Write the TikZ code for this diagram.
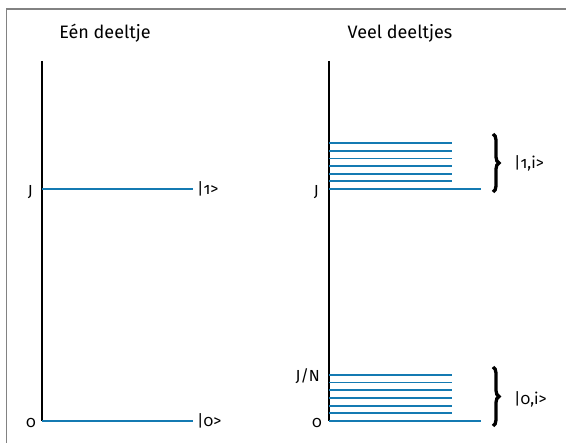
\documentclass[tikz,border=0pt]{standalone}
\usepackage{fontspec}
\setmainfont[Numbers=OldStyle]{Fira Sans}
\usetikzlibrary{decorations.pathreplacing}
\definecolor{levelblue}{RGB}{20,122,178}
\definecolor{framegray}{RGB}{130,130,130}

\begin{document}
\begin{tikzpicture}[x=1pt,y=-1pt,
  axis/.style={draw=black,line width=1.1pt},
  level/.style={draw=levelblue,line width=1.8pt},
  lbl/.style={inner sep=0pt,font=\fontsize{16}{19}\selectfont},
  title/.style={inner sep=0pt,font=\fontsize{18}{22}\selectfont},
  curly/.style={decorate,decoration={brace,amplitude=6pt},line width=3.3pt}]

\useasboundingbox (0,0) rectangle (566,443);

% frame
\draw[framegray,line width=1.3pt] (6.7,443) -- (6.7,9) -- (566,9);

% titles
\node[title] (t1) at (105,33) {Eén deeltje};
\node[title] (t2) at (400,33) {Veel deeltjes};

% een deeltje
\coordinate (a1top) at (42,61);
\coordinate (a1bot) at (42,421);
\draw[axis] (a1top) -- (a1bot);
\coordinate (e1) at (42,189);
\coordinate (e1end) at (193,189);
\coordinate (e0end) at (193,421);
\draw[level] (e1) -- (e1end);
\draw[level] (a1bot) -- (e0end);
\node[lbl,anchor=east] (J1) at (33,192) {J};
\node[lbl,anchor=east] (z1) at (36,423) {0};
\node[lbl,anchor=west] (k1) at (197,189) {|1>};
\node[lbl,anchor=west] (k0) at (197,421) {|0>};

% veel deeltjes
\coordinate (a2top) at (329,61);
\coordinate (a2bot) at (329,421);
\draw[axis] (a2top) -- (a2bot);
\coordinate (m1) at (329,189);
\coordinate (m1end) at (481,189);
\coordinate (m0end) at (481,421);
\draw[level] (m1) -- (m1end);
\draw[level] (a2bot) -- (m0end);
\foreach \k in {1,...,6} {
  \draw[level] (329,189-7.62*\k) -- (452,189-7.62*\k);
  \draw[level] (329,421-7.68*\k) -- (452,421-7.68*\k);
}
\node[lbl,anchor=east] (J2) at (319,192) {J};
\node[lbl,anchor=east] (z2) at (322,423) {0};
\node[lbl,anchor=east] (JN) at (320,376) {J/N};

% braces
\coordinate (b1top) at (493,134);
\coordinate (b1bot) at (493,192);
\coordinate (b0top) at (493,367);
\coordinate (b0bot) at (493,426);
\draw[curly] (b1top) -- (b1bot);
\draw[curly] (b0top) -- (b0bot);
\node[lbl,anchor=west] (k1i) at (514,163) {|1,i>};
\node[lbl,anchor=west] (k0i) at (514,399) {|0,i>};

\end{tikzpicture}
\end{document}
